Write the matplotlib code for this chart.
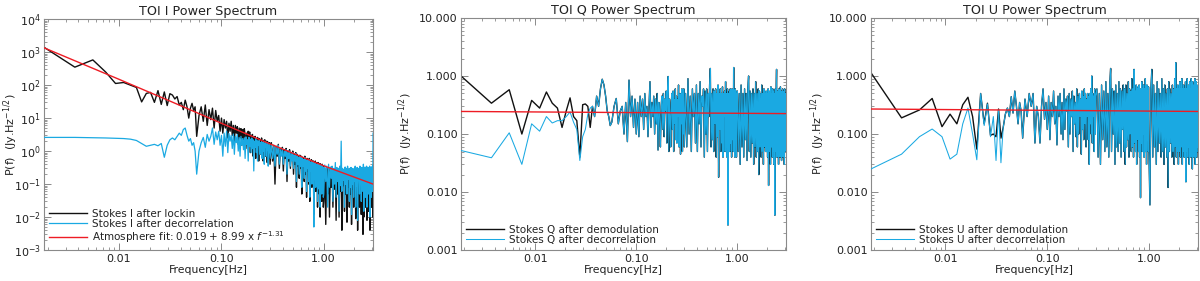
import numpy as np
import matplotlib
matplotlib.use("Agg")
import matplotlib.pyplot as plt
from matplotlib.ticker import FixedLocator, FixedFormatter, LogLocator, NullFormatter

# ---------------- data ----------------
DF = 0.00185                  # FFT bin width [Hz]; low segment = bins 1..30
MID_RANGE = (0.0575, 0.30)    # frequency span of the *_mid lists
HIGH_A_RANGE = (0.309, 0.995) # frequency span of the *_high_a lists
HIGH_B_RANGE = (1.005, 3.05)  # frequency span of the *_high_b lists
X_LIMITS = (0.00185, 3.05)

# ---- TOI I ----
i_lockin_low = [1400, 350, 580, 250, 112, 120, 100, 85, 31, 56, 60, 30, 68, 26, 62,
                24, 55, 50, 38, 45, 25, 30, 18, 35, 22, 10, 20, 28, 17, 22]
i_lockin_mid = [2.8, 12, 22, 8, 25, 6, 18, 9,
                20, 5, 17, 8, 12, 4, 10,
                3.5, 9, 5, 8, 2.5, 7, 4, 8, 3, 6,
                2, 6, 3.5, 5.5, 1.6, 5, 2.5, 4.8, 1.5, 4.5,
                2.2, 4.8, 3, 1.2, 3.5, 2, 4, 1.5, 3.8, 0.9, 3, 2, 3.2,
                0.7, 2.6, 1.6, 2.8, 0.6, 2.2, 1.1, 2.6, 1.8, 0.5, 2.4, 1.3, 2.2, 0.8, 2.5, 1.0,
                2.0, 0.5, 2.1, 1.2, 2.2, 0.7, 1.8, 1.4, 2.0, 0.45, 1.9, 1.0, 1.7, 0.6, 1.8, 0.4]
i_lockin_high_a = [1.8, 0.5, 1.5, 0.1, 1.4, 0.7, 1.6, 0.3, 1.2, 0.8,
                   1.3, 0.25, 1.1, 0.6, 1.2, 0.12, 1.0, 0.5, 1.1, 0.3, 0.9, 0.6,
                   1.0, 0.2, 0.8, 0.4, 0.9, 0.08, 0.8, 0.35, 0.7, 0.15, 0.75,
                   0.3, 0.7, 0.05, 0.65, 0.3, 0.6, 0.12, 0.7, 0.2, 0.55, 0.04, 0.6,
                   0.25, 0.55, 0.1, 0.6, 0.03, 0.5, 0.2, 0.55, 0.08, 0.5, 0.15,
                   0.5, 0.012, 0.45, 0.2, 0.5, 0.06, 0.45, 0.1, 0.4, 0.02, 0.45, 0.15,
                   0.4, 0.05, 0.42, 0.01, 0.4, 0.12, 0.38, 0.03, 0.4, 0.08, 0.35, 0.02]
i_lockin_high_b = [0.03, 0.3, 0.006, 0.3, 0.05, 0.32, 0.01, 0.28, 0.08, 0.3, 0.02, 0.25,
                   0.07, 0.3, 0.008, 0.28, 0.05, 0.25, 0.01, 0.3, 0.06, 0.25, 0.004, 0.27,
                   0.09, 0.25, 0.015, 0.3, 0.05, 0.26, 0.007, 0.3, 0.08, 0.25, 0.02, 0.28,
                   0.05, 0.3, 0.006, 0.26, 0.07, 0.25, 0.02,
                   0.27, 0.06, 0.3, 0.009, 0.26, 0.05, 0.28, 0.004, 0.25, 0.08, 0.25, 0.02,
                   0.3, 0.06, 0.26, 0.012, 0.28, 0.07, 0.25, 0.003, 0.3, 0.01, 0.26, 0.05,
                   0.28, 0.02, 0.25, 0.07, 0.3, 0.008, 0.25, 0.05, 0.28, 0.015, 0.26, 0.07,
                   0.3, 0.004, 0.25, 0.06, 0.28, 0.02, 0.25, 0.07, 0.3, 0.01, 0.2]
i_decorr_low = [2.6, 2.6, 2.55, 2.5, 2.45, 2.4, 2.3, 2.1, 1.7, 1.4, 1.5, 1.6, 1.45, 1.7,
                0.65, 1.5, 2.2, 2.5, 2.2, 2.8, 3.5, 3.0, 4.5, 5.0, 3.0, 2.0, 2.4, 1.5,
                1.8, 1.0]
i_decorr_mid = [0.2, 1.0, 1.8, 2.6, 1.3, 3.2, 2.0, 2.8,
                5.0, 1.6, 3.8, 2.2, 4.0, 1.5, 3.0,
                0.7, 3.5, 1.4, 4.0, 0.9, 3.4, 2.0, 3.0, 1.2, 3.3,
                0.8, 2.8, 1.8, 3.2, 1.0, 2.6, 0.7, 2.8, 1.5, 2.4,
                1.1, 2.5, 0.6, 2.7, 1.6, 2.2, 0.5, 2.6, 1.4, 2.3, 0.9, 2.5, 1.2,
                2.2, 0.25, 2.0, 1.3, 2.4, 0.9, 2.1, 0.5, 1.9, 1.5, 2.2, 0.8, 1.8, 1.2, 2.0, 0.6,
                1.8, 1.0, 2.0, 0.4, 1.7, 1.3, 1.9, 0.7, 1.6, 1.1, 1.8, 0.35, 1.5, 0.9, 1.6, 0.6]
i_decorr_high_a = [1.5, 0.6, 1.4, 0.35, 1.3, 0.8, 1.5, 0.4, 1.1, 0.7,
                   1.2, 0.4, 1.0, 0.7, 1.1, 0.2, 0.9, 0.6, 1.0, 0.35, 0.85, 0.5,
                   0.9, 0.3, 0.75, 0.5, 0.85, 0.12, 0.7, 0.4, 0.65, 0.2, 0.7,
                   0.35, 0.65, 0.08, 0.6, 0.35, 0.55, 0.15, 0.65, 0.25, 0.5, 0.06, 0.55,
                   0.3, 0.5, 0.12, 0.55, 0.04, 0.45, 0.25, 0.5, 0.1, 0.45, 0.2,
                   0.45, 0.005, 0.42, 0.25, 0.45, 0.08, 0.4, 0.15, 0.38, 0.03, 0.42, 0.2,
                   0.38, 0.07, 0.4, 0.02, 0.36, 0.15, 0.35, 0.05, 0.38, 0.1, 0.33, 0.04]
i_decorr_high_b = [0.05, 0.38, 0.12, 0.35, 0.02, 0.4, 0.08, 0.33, 0.15, 0.35, 0.03, 0.3,
                   0.1, 0.45, 0.04, 0.32, 0.12, 0.3, 0.015, 0.35, 0.09, 2.0, 0.06, 0.3,
                   0.13, 0.28, 0.02, 0.33, 0.1, 0.3, 0.05, 0.35, 0.14, 0.28, 0.03, 0.3,
                   0.08, 0.32, 0.012, 0.3, 0.1, 0.28, 0.04,
                   0.3, 0.12, 0.35, 0.02, 0.3, 0.09, 0.32, 0.008, 0.3, 0.15, 0.28, 0.05,
                   0.35, 0.1, 0.3, 0.03, 0.32, 0.13, 0.3, 0.06, 0.4, 0.015, 0.3, 0.1, 0.33,
                   0.04, 0.3, 0.12, 0.35, 0.02, 0.3, 0.09, 0.32, 0.05, 0.3, 0.14, 0.35,
                   0.01, 0.3, 0.1, 0.33, 0.04, 0.3, 0.12, 0.35, 0.06, 3.5]
i_fit_freq = [0.00185, 0.01, 0.03, 0.1, 0.3, 1.0, 3.05]
i_fit_power = [1350, 150, 35, 7.0, 1.65, 0.36, 0.1]

# ---- TOI Q ----
q_demod_low = [1.0, 0.34, 0.58, 0.10, 0.38, 0.28, 0.53, 0.34, 0.28, 0.13, 0.25, 0.42,
               0.2, 0.17, 0.04, 0.32, 0.33, 0.3, 0.13]
q_decorr_low = [0.052, 0.039, 0.105, 0.030, 0.15, 0.112, 0.20, 0.155, 0.17, 0.17, 0.2,
                0.24, 0.16, 0.12, 0.035, 0.09, 0.12, 0.22, 0.28]
q_common_low = [0.3, 0.2, 0.45, 0.3, 0.6, 0.88, 0.7, 0.45, 0.25, 0.2, 0.14]
q_common_mid = [0.16, 0.3, 0.41, 0.15, 0.25, 0.3, 0.1, 0.35,
                0.074, 0.85, 0.2, 0.45, 0.13, 0.4, 0.1,
                0.35, 0.09, 0.45, 0.2, 0.4, 0.12, 0.5, 0.2, 0.3, 0.09,
                0.3, 0.8, 0.13, 0.35, 0.2, 0.45, 0.1, 0.4, 0.15, 0.5,
                0.053, 0.35, 0.2, 0.06, 0.3, 0.45, 0.12, 0.5, 0.09, 0.4, 0.25, 0.55, 0.07,
                0.5, 0.98, 0.05, 0.4, 0.2, 0.06, 0.35, 0.5, 0.12, 0.55, 0.05, 0.4, 0.15, 0.6, 0.08, 0.45,
                0.07, 0.4, 0.2, 0.7, 0.06, 0.35, 0.5, 0.045, 0.45, 0.15, 0.6, 0.05, 0.5, 0.1, 0.6, 0.06]
q_common_high_a = [0.5, 0.06, 0.9, 0.1, 0.45, 0.05, 0.6, 0.2, 0.5, 0.07,
                   0.7, 0.05, 0.5, 0.15, 0.8, 0.06, 0.45, 0.3, 0.6, 0.04, 0.55, 0.1,
                   0.6, 0.05, 0.5, 0.2, 0.7, 1.35, 0.06, 0.5, 0.08, 0.6, 0.05,
                   0.55, 0.15, 0.6, 0.04, 0.5, 0.09, 0.7, 0.018, 0.5, 0.12, 0.6, 0.05,
                   0.5, 0.07, 0.65, 0.04, 0.5, 0.2, 0.55, 0.05, 0.8, 0.06, 0.5,
                   0.04, 0.6, 0.0027, 0.5, 0.1, 0.55, 0.05, 0.6, 0.07, 0.5, 0.04, 0.6,
                   0.08, 0.5, 0.05, 1.4, 0.06, 0.55, 0.04, 0.6, 0.1, 0.5, 0.04, 0.55]
q_common_high_b = [0.55, 0.05, 0.5, 0.03, 0.7, 0.06, 0.5, 0.04, 0.6, 0.08, 0.5, 0.035,
                   0.6, 1.0, 0.05, 0.55, 0.04, 0.5, 0.07, 0.6, 0.03, 0.5, 0.06, 0.8, 0.04,
                   0.5, 0.05, 0.6, 0.02, 0.55, 0.06, 0.5, 0.04, 0.7, 0.05, 0.5, 0.03, 0.6,
                   0.06, 0.5, 0.05, 0.55, 0.05,
                   0.5, 0.04, 0.6, 0.013, 0.55, 0.05, 0.5, 0.03, 0.65, 0.06, 0.5, 0.04,
                   0.6, 0.05, 0.55, 0.03, 0.5, 0.004, 0.6, 0.05, 0.5, 1.3, 0.04, 0.55,
                   0.06, 0.5, 0.03, 0.6, 0.05, 0.5, 0.04, 0.65, 0.06, 0.5, 0.035, 0.55,
                   0.05, 0.6, 0.04, 0.5, 0.06, 0.55, 0.03, 0.6, 0.05, 0.5, 0.06, 0.5]
q_fit_freq = [0.00185, 3.05]
q_fit_power = [0.245, 0.225]

# ---- TOI U ----
u_demod_low = [1.14, 0.19, 0.26, 0.41, 0.134, 0.22, 0.15, 0.32, 0.43, 0.2, 0.055, 0.5,
               0.15, 0.34, 0.095, 0.1, 0.09, 0.27, 0.085]
u_decorr_low = [0.025, 0.045, 0.09, 0.122, 0.09, 0.037, 0.045, 0.15, 0.28, 0.1, 0.036,
                0.5, 0.14, 0.33, 0.09, 0.2, 0.035, 0.26, 0.032]
u_common_low = [0.13, 0.22, 0.28, 0.2, 0.44, 0.23, 0.55, 0.3, 0.15, 0.35, 0.25]
u_common_mid = [0.085, 0.4, 0.2, 0.5, 0.3, 0.5, 0.07, 0.3,
                0.2, 0.07, 0.3, 0.6, 0.18, 0.35, 0.12,
                0.45, 0.08, 0.35, 0.2, 0.55, 0.15, 0.3, 0.065, 0.45, 0.2,
                0.5, 0.1, 0.35, 0.08, 0.6, 0.12, 0.4, 0.25, 0.45, 0.06,
                0.5, 0.1, 0.4, 0.2, 0.55, 0.05, 0.45, 0.15, 0.35, 0.09, 0.6, 0.06, 0.45,
                0.1, 0.5, 0.2, 0.4, 0.045, 0.55, 0.12, 0.45, 0.08, 0.6, 0.15, 0.5, 0.06, 0.4, 0.2, 0.5,
                0.08, 0.45, 0.03, 0.5, 0.15, 0.6, 0.1, 1.0, 0.07, 0.5, 0.2, 0.45, 0.05, 0.6, 0.1, 0.45]
u_common_high_a = [0.6, 0.04, 0.5, 0.03, 0.7, 0.08, 0.55, 0.05, 0.8, 0.06,
                   0.5, 0.04, 0.7, 1.35, 0.05, 0.6, 0.1, 0.55, 0.03, 0.7, 0.06, 0.5,
                   0.05, 0.8, 0.07, 0.6, 0.04, 0.55, 0.12, 0.7, 0.05, 0.6, 0.03,
                   0.7, 0.06, 0.5, 0.08, 0.8, 0.04, 0.6, 0.1, 0.55, 0.05, 0.9, 0.06,
                   0.6, 0.04, 1.3, 0.07, 0.55, 0.05, 0.7, 0.03, 0.6, 0.08, 0.65,
                   0.05, 0.7, 0.04, 0.6, 0.008, 0.55, 0.07, 0.8, 0.05, 0.6, 0.1, 0.7,
                   0.04, 0.6, 0.06, 0.9, 0.05, 0.6, 0.03, 0.7, 0.08, 0.55, 0.05, 0.65]
u_common_high_b = [0.05, 0.006, 0.6, 1.3, 0.04, 0.7, 0.06, 0.5, 0.03, 0.8, 0.05, 0.6,
                   0.07, 0.5, 0.04, 0.9, 0.05, 0.6, 0.03, 0.7, 0.06, 0.5, 0.04, 0.6,
                   0.012, 0.8, 0.05, 0.6, 0.07, 0.5, 0.04, 0.7, 0.05, 0.6, 0.03, 0.9,
                   0.06, 1.7, 0.04, 0.6, 0.05, 0.7, 0.03,
                   0.6, 0.05, 0.8, 0.04, 0.6, 0.06, 0.9, 0.03, 0.6, 0.05, 0.7, 0.04, 0.6,
                   0.07, 0.8, 0.015, 0.6, 0.05, 0.9, 0.04, 0.6, 0.06, 0.7, 0.03, 0.8,
                   0.05, 0.6, 0.04, 0.9, 0.06, 0.6, 0.025, 0.8, 0.05, 0.7, 0.04, 0.6,
                   0.06, 0.9, 0.03, 0.6, 0.05, 0.8, 0.04, 0.7, 0.06, 0.6, 0.05]
u_fit_freq = [0.00185, 3.05]
u_fit_power = [0.27, 0.245]

titles = ["TOI I Power Spectrum", "TOI Q Power Spectrum", "TOI U Power Spectrum"]
labels_I = ["Stokes I after lockin", "Stokes I after decorrelation",
            "Atmosphere fit: 0.019 + 8.99 x $\\mathit{f}^{-1.31}$"]
labels_Q = ["Stokes Q after demodulation", "Stokes Q after decorrelation"]
labels_U = ["Stokes U after demodulation", "Stokes U after decorrelation"]
x_ticks = [0.01, 0.1, 1.0]
x_ticklabels = ["0.01", "0.10", "1.00"]
y_ticks_I = [1e-3, 1e-2, 1e-1, 1e0, 1e1, 1e2, 1e3, 1e4]
y_ticks_QU = [0.001, 0.01, 0.1, 1.0, 10.0]
y_ticklabels_QU = ["0.001", "0.010", "0.100", "1.000", "10.000"]


def spectrum(low, mid, high_a, high_b):
    f = np.concatenate([DF * np.arange(1, len(low) + 1),
                        np.linspace(*MID_RANGE, len(mid)),
                        np.linspace(*HIGH_A_RANGE, len(high_a)),
                        np.linspace(*HIGH_B_RANGE, len(high_b))])
    p = np.concatenate([np.asarray(v, float) for v in (low, mid, high_a, high_b)])
    return f, p


BLACK = "#111111"
BLUE = "#1aa9e2"
RED = "#ee1c24"
TXT = "#222222"
SPINE = "#8a8a8a"

plt.rcParams["font.family"] = ["DejaVu Sans"]
plt.rcParams["text.color"] = TXT
plt.rcParams["axes.labelcolor"] = TXT
plt.rcParams["xtick.color"] = SPINE
plt.rcParams["ytick.color"] = SPINE
plt.rcParams["xtick.labelcolor"] = TXT
plt.rcParams["ytick.labelcolor"] = TXT
plt.rcParams["mathtext.fontset"] = "dejavusans"

fig = plt.figure(figsize=(12, 2.81), dpi=100)
fig.patch.set_facecolor("white")
positions = [[0.0367, 0.110, 0.2742, 0.822],
             [0.3842, 0.110, 0.2708, 0.826],
             [0.7258, 0.110, 0.2725, 0.826]]
ylabel_x = [-0.074, -0.142, -0.135]
axes = [fig.add_axes(p) for p in positions]

series = [
    (spectrum(i_lockin_low, i_lockin_mid, i_lockin_high_a, i_lockin_high_b),
     spectrum(i_decorr_low, i_decorr_mid, i_decorr_high_a, i_decorr_high_b),
     (i_fit_freq, i_fit_power), labels_I),
    (spectrum(q_demod_low + q_common_low, q_common_mid, q_common_high_a, q_common_high_b),
     spectrum(q_decorr_low + q_common_low, q_common_mid, q_common_high_a, q_common_high_b),
     (q_fit_freq, q_fit_power), labels_Q),
    (spectrum(u_demod_low + u_common_low, u_common_mid, u_common_high_a, u_common_high_b),
     spectrum(u_decorr_low + u_common_low, u_common_mid, u_common_high_a, u_common_high_b),
     (u_fit_freq, u_fit_power), labels_U),
]

for idx, (ax, (blk, blu, fit, labs)) in enumerate(zip(axes, series)):
    h1, = ax.plot(blk[0], blk[1], color=BLACK, lw=1.0, zorder=2)
    h2, = ax.plot(blu[0], blu[1], color=BLUE, lw=0.75 if idx else 0.9, zorder=3)
    h3, = ax.plot(fit[0], fit[1], color=RED, lw=1.0, zorder=4)
    ax.set_xscale("log")
    ax.set_yscale("log")
    ax.set_xlim(*X_LIMITS)
    ax.xaxis.set_major_locator(FixedLocator(x_ticks))
    ax.xaxis.set_major_formatter(FixedFormatter(x_ticklabels))
    ax.xaxis.set_minor_locator(LogLocator(base=10, subs=np.arange(2, 10), numticks=20))
    ax.xaxis.set_minor_formatter(NullFormatter())
    if idx == 0:
        ax.set_ylim(1e-3, 1e4)
        ax.yaxis.set_major_locator(FixedLocator(y_ticks_I))
        handles = [h1, h2, h3]
    else:
        ax.set_ylim(1e-3, 10)
        ax.yaxis.set_major_locator(FixedLocator(y_ticks_QU))
        ax.yaxis.set_major_formatter(FixedFormatter(y_ticklabels_QU))
        handles = [h1, h2]
    ax.yaxis.set_minor_locator(LogLocator(base=10, subs=np.arange(2, 10), numticks=20))
    ax.yaxis.set_minor_formatter(NullFormatter())
    ax.tick_params(which="both", direction="in", top=True, right=True, labelsize=8)
    ax.tick_params(which="major", length=5, width=0.7, pad=2.5)
    ax.tick_params(which="minor", length=2.5, width=0.6)
    for s in ax.spines.values():
        s.set_color(SPINE)
        s.set_linewidth(0.8)
    ax.set_title(titles[idx], fontsize=9.2, pad=3, color=TXT)
    ax.set_xlabel("Frequency[Hz]", fontsize=7.8, labelpad=1)
    ax.set_ylabel("P(f)  (Jy.Hz$^{-1/2}$)", fontsize=8.0)
    ax.yaxis.set_label_coords(ylabel_x[idx], 0.5)
    ax.legend(handles, labs, loc="lower left", frameon=False, fontsize=7.5,
              handlelength=3.6, handletextpad=0.5, labelspacing=0.0,
              borderaxespad=0.2, borderpad=0.3)

fig.savefig("out.png", dpi=100, facecolor="white")
